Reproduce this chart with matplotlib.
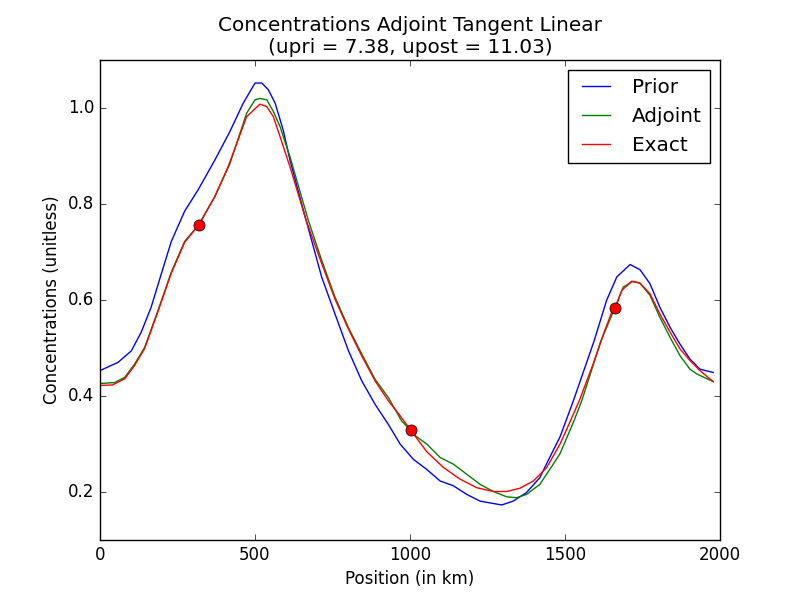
import numpy as np
import matplotlib
matplotlib.use('Agg')
import matplotlib.pyplot as plt

plt.style.use('classic')

# Prior concentrations
prior_x = [0, 58, 101, 133, 165, 198, 230, 273, 316, 370, 419, 462, 500, 522, 543, 565,
           591, 613, 656, 715, 758, 801, 844, 887, 930, 968, 1011, 1054, 1097, 1140, 1183,
           1226, 1269, 1296, 1333, 1376, 1419, 1443, 1484, 1527, 1594, 1634, 1667, 1710,
           1742, 1774, 1806, 1839, 1871, 1903, 1935, 1978]
prior_y = [0.453, 0.470, 0.494, 0.533, 0.585, 0.655, 0.722, 0.785, 0.829, 0.891, 0.951,
           1.010, 1.052, 1.052, 1.038, 1.010, 0.954, 0.891, 0.787, 0.648, 0.571, 0.495,
           0.432, 0.383, 0.341, 0.300, 0.268, 0.247, 0.223, 0.213, 0.195, 0.181, 0.176,
           0.173, 0.181, 0.199, 0.230, 0.262, 0.315, 0.390, 0.515, 0.599, 0.648, 0.674,
           0.663, 0.634, 0.585, 0.543, 0.508, 0.477, 0.456, 0.449]

# Adjoint estimate
adj_x = [0, 47, 80, 112, 144, 187, 230, 273, 319, 370, 419, 473, 500, 516, 538, 559,
         581, 613, 672, 715, 758, 801, 844, 887, 930, 973, 1000, 1011, 1054, 1097, 1140,
         1183, 1226, 1269, 1312, 1344, 1376, 1419, 1462, 1484, 1527, 1554, 1616, 1661,
         1688, 1720, 1742, 1774, 1806, 1839, 1871, 1903, 1925, 1978]
adj_y = [0.426, 0.428, 0.439, 0.467, 0.501, 0.578, 0.658, 0.722, 0.757, 0.815, 0.884,
         0.989, 1.017, 1.020, 1.017, 0.993, 0.961, 0.898, 0.766, 0.683, 0.606, 0.543,
         0.488, 0.435, 0.397, 0.348, 0.330, 0.320, 0.300, 0.272, 0.258, 0.237, 0.216,
         0.201, 0.190, 0.188, 0.195, 0.216, 0.258, 0.280, 0.345, 0.390, 0.515, 0.584,
         0.627, 0.639, 0.635, 0.610, 0.564, 0.522, 0.484, 0.456, 0.446, 0.430]

# Exact solution
exact_x = [0, 40, 80, 112, 144, 187, 230, 273, 319, 370, 413, 473, 516, 538, 559, 581,
           613, 665, 715, 758, 801, 844, 887, 930, 968, 1002, 1054, 1108, 1161, 1215,
           1269, 1312, 1355, 1398, 1441, 1484, 1505, 1546, 1591, 1624, 1651, 1663, 1683,
           1715, 1742, 1774, 1806, 1839, 1871, 1903, 1935, 1978]
exact_y = [0.422, 0.423, 0.436, 0.464, 0.499, 0.576, 0.656, 0.720, 0.757, 0.815, 0.877,
           0.982, 1.008, 1.003, 0.982, 0.940, 0.877, 0.766, 0.676, 0.602, 0.540, 0.484,
           0.432, 0.390, 0.359, 0.329, 0.284, 0.251, 0.227, 0.209, 0.201, 0.201, 0.208,
           0.223, 0.251, 0.300, 0.330, 0.390, 0.467, 0.529, 0.575, 0.584, 0.620, 0.639,
           0.635, 0.613, 0.571, 0.533, 0.498, 0.474, 0.453, 0.430]

# observation points
obs_x = [319, 1002, 1662]
obs_y = [0.757, 0.329, 0.584]

fig = plt.figure(figsize=(8, 6))
plt.plot(prior_x, prior_y, 'b-', label='Prior')
plt.plot(adj_x, adj_y, 'g-', label='Adjoint')
plt.plot(exact_x, exact_y, 'r-', label='Exact')
plt.plot(obs_x, obs_y, 'ro', markersize=8)
plt.xlim(0, 2000)
plt.ylim(0.1, 1.1)
plt.xticks([0, 500, 1000, 1500, 2000])
plt.yticks([0.2, 0.4, 0.6, 0.8, 1.0])
plt.xlabel('Position (in km)')
plt.ylabel('Concentrations (unitless)')
plt.title('Concentrations Adjoint Tangent Linear\n(upri = 7.38, upost = 11.03)')
plt.legend(loc='upper right')
plt.savefig('out.png', dpi=100, facecolor='w')
